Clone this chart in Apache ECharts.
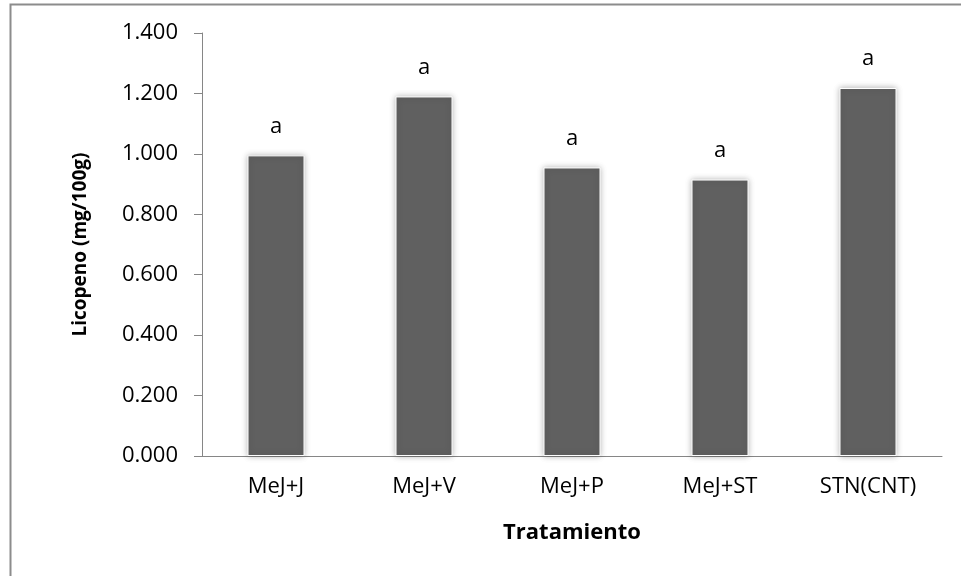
<!DOCTYPE html>
<html>
<head>
<meta charset="utf-8">
<script src="https://cdn.jsdelivr.net/npm/echarts@6/dist/echarts.min.js"></script>
<style>
html,body{margin:0;padding:0;background:#fff;}
#c{width:961px;height:576px;}
</style>
</head>
<body>
<div id="c"></div>
<script>
const categories = ['MeJ+J', 'MeJ+V', 'MeJ+P', 'MeJ+ST', 'STN(CNT)'];
const licopeno = [0.995, 1.19, 0.955, 0.915, 1.218];
const letters = ['a', 'a', 'a', 'a', 'a'];
const yTicks = [0, 0.2, 0.4, 0.6, 0.8, 1.0, 1.2, 1.4];

const FONT = '"Open Sans", "Noto Sans", sans-serif';
const chart = echarts.init(document.getElementById('c'), null, {renderer: 'canvas'});
chart.setOption({
  backgroundColor: '#ffffff',
  animation: false,
  graphic: [{
    type: 'rect',
    shape: {x: 10.5, y: 4.5, width: 1000, height: 1000},
    style: {fill: 'none', stroke: '#8c8c8c', lineWidth: 2},
    silent: true
  }],
  grid: {left: 202, right: 19, top: 33, bottom: 120},
  xAxis: {
    type: 'category',
    data: categories,
    name: 'Tratamiento',
    nameLocation: 'middle',
    nameGap: 66,
    nameTextStyle: {fontFamily: FONT, fontSize: 22, fontWeight: 'bold', color: '#000'},
    axisLine: {lineStyle: {color: '#868686', width: 1}},
    axisTick: {show: false},
    axisLabel: {fontFamily: FONT, fontSize: 22, color: '#000', margin: 20}
  },
  yAxis: {
    type: 'value',
    min: yTicks[0],
    max: yTicks[yTicks.length - 1],
    interval: 0.2,
    name: 'Licopeno (mg/100g)',
    nameLocation: 'middle',
    nameGap: 112,
    nameTextStyle: {fontFamily: FONT, fontSize: 19, fontWeight: 'bold', color: '#000'},
    axisLine: {show: true, lineStyle: {color: '#868686', width: 1}},
    axisTick: {show: true, length: 8, lineStyle: {color: '#868686'}},
    splitLine: {show: false},
    axisLabel: {
      fontFamily: FONT, fontSize: 22, color: '#000', margin: 24,
      formatter: v => v.toFixed(3)
    }
  },
  series: [{
    type: 'bar',
    data: licopeno,
    barWidth: 57,
    itemStyle: {
      color: '#606060',
      borderColor: '#ffffff',
      borderWidth: 1,
      shadowColor: 'rgba(0,0,0,0.28)',
      shadowBlur: 6
    },
    label: {
      show: true,
      position: 'top',
      distance: 18,
      fontFamily: FONT, fontSize: 22, color: '#000',
      formatter: p => letters[p.dataIndex]
    }
  }]
});
</script>
</body>
</html>
